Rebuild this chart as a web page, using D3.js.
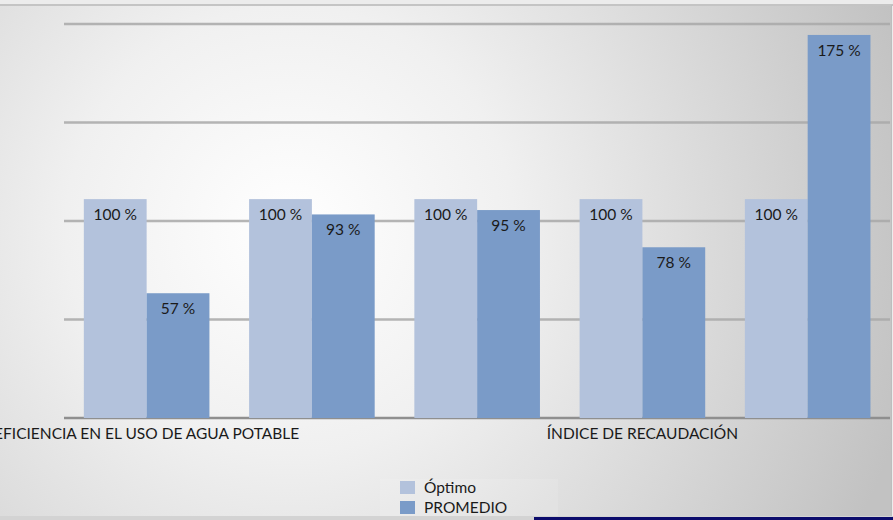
<!DOCTYPE html>
<html>
<head>
<meta charset="utf-8">
<script src="https://d3js.org/d3.v7.min.js"></script>
<style>
  body { margin: 0; }
  svg { display: block; }
  text { font-family: Lato, "Open Sans", sans-serif; fill: #1a1a1a; }
</style>
</head>
<body>
<svg id="chart" width="893" height="520"></svg>
<script>
// data
var categories = ["EFICIENCIA EN EL USO DE AGUA POTABLE", "cat2", "cat3", "ÍNDICE DE RECAUDACIÓN", "cat5"];
var shownLabels = ["EFICIENCIA EN EL USO DE AGUA POTABLE", "ÍNDICE DE RECAUDACIÓN"];
var seriesNames = ["Óptimo", "PROMEDIO"];
var optimo = [100, 100, 100, 100, 100];
var promedio = [57, 93, 95, 78, 175];
var gridValues = [0, 45, 90, 135, 180];
var colors = ["#b3c2dc", "#7a9bc8"];

var svg = d3.select("#chart");
var W = 893, H = 520;

// background
var defs = svg.append("defs");
var grad = defs.append("radialGradient")
  .attr("id", "bg")
  .attr("gradientUnits", "userSpaceOnUse")
  .attr("cx", 290).attr("cy", 230).attr("r", 640);
grad.append("stop").attr("offset", "0").attr("stop-color", "#ffffff");
grad.append("stop").attr("offset", "0.35").attr("stop-color", "#f0f0f0");
grad.append("stop").attr("offset", "1").attr("stop-color", "#c2c2c2");

svg.append("rect").attr("width", W).attr("height", H).attr("fill", "#ececec");
svg.append("rect").attr("x", 0).attr("y", 5).attr("width", W - 2).attr("height", 512).attr("fill", "url(#bg)");
svg.append("line").attr("x1", 0).attr("x2", W).attr("y1", 5).attr("y2", 5)
  .attr("stroke", "#c4c4c4").attr("stroke-width", 2);
svg.append("line").attr("x1", 891.5).attr("x2", 891.5).attr("y1", 5).attr("y2", 517)
  .attr("stroke", "#bdbdbd").attr("stroke-width", 1);
svg.append("rect").attr("x", 0).attr("y", 516).attr("width", W).attr("height", 4).attr("fill", "#d3d3d3");
svg.append("rect").attr("x", 534).attr("y", 517).attr("width", W - 534).attr("height", 3).attr("fill", "#0c0c6c");

var x = d3.scaleBand().domain(categories).range([64, 890.3]).paddingInner(0.24).paddingOuter(0.12);
var xs = d3.scaleBand().domain(seriesNames).range([0, x.bandwidth()]);
var y = d3.scaleLinear().domain([0, 180]).range([418, 24]);

// gridlines
svg.append("g").selectAll("line").data(gridValues).enter().append("line")
  .attr("x1", 64).attr("x2", 890)
  .attr("y1", function(d) { return y(d); })
  .attr("y2", function(d) { return y(d); })
  .attr("stroke", function(d) { return d === 0 ? "#8f8f8f" : "#a9a9a9"; })
  .attr("stroke-width", 2.5)
  .attr("opacity", function(d) { return d === 0 ? 1 : 0.85; });

var series = [optimo, promedio];
series.forEach(function(vals, s) {
  var g = svg.append("g");
  g.selectAll("rect").data(vals).enter().append("rect")
    .attr("x", function(d, i) { return x(categories[i]) + xs(seriesNames[s]); })
    .attr("y", function(d) { return y(d); })
    .attr("width", xs.bandwidth())
    .attr("height", function(d) { return y(0) - y(d); })
    .attr("fill", colors[s]);
  g.selectAll("text").data(vals).enter().append("text")
    .attr("x", function(d, i) { return x(categories[i]) + xs(seriesNames[s]) + xs.bandwidth() / 2; })
    .attr("y", function(d) { return y(d) + 15.5; })
    .attr("dy", "0.35em")
    .attr("text-anchor", "middle")
    .attr("font-size", "15.5px")
    .text(function(d) { return d + " %"; });
});

// category labels (only some are shown)
var xAxis = svg.append("g");
xAxis.selectAll("text").data(shownLabels).enter().append("text")
  .attr("x", function(d) { return x(d) + x.bandwidth() / 2; })
  .attr("y", 434)
  .attr("dy", "0.35em")
  .attr("text-anchor", "middle")
  .attr("font-size", "15.5px")
  .text(function(d) { return d; });

// legend
svg.append("rect").attr("x", 380).attr("y", 479).attr("width", 178).attr("height", 37)
  .attr("fill", "#ffffff").attr("opacity", 0.12);
var legend = svg.append("g").selectAll("g").data(seriesNames).enter().append("g")
  .attr("transform", function(d, i) { return "translate(400," + (481 + i * 20) + ")"; });
legend.append("rect").attr("width", 15).attr("height", 13)
  .attr("fill", function(d, i) { return colors[i]; });
legend.append("text").attr("x", 24).attr("y", 7).attr("dy", "0.35em")
  .attr("font-size", "15.5px").text(function(d) { return d; });
</script>
</body>
</html>
